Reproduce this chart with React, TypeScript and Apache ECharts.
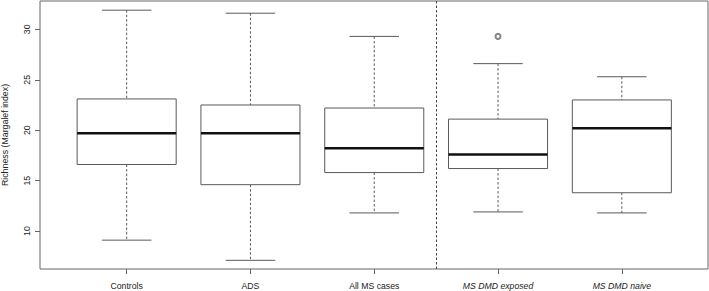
import React, { useEffect, useRef } from "react";
import * as echarts from "echarts";

const categories = ["Controls", "ADS", "All MS cases", "MS DMD exposed", "MS DMD naive"];
const italicCategories = [false, false, false, true, true];
const lowerWhisker = [9.1, 7.1, 11.8, 11.9, 11.8];
const q1 = [16.6, 14.6, 15.8, 16.2, 13.8];
const median = [19.7, 19.7, 18.2, 17.6, 20.2];
const q3 = [23.1, 22.5, 22.2, 21.1, 23.0];
const upperWhisker = [31.9, 31.6, 29.3, 26.6, 25.3];
const outliers: [number, number][] = [[4, 29.3]];
const separatorPosition = 3.5;
const yTicks = [10, 15, 20, 25, 30];
const yAxisTitle = "Richness (Margalef index)";

const FONT = "Liberation Sans, Arial, Helvetica, sans-serif";

export default function App() {
  const ref = useRef<HTMLDivElement>(null);
  useEffect(() => {
    if (!ref.current) return;
    const chart = echarts.init(ref.current, null, { renderer: "svg" });
    const boxData = categories.map((_, i) => [
      i + 1,
      lowerWhisker[i],
      q1[i],
      median[i],
      q3[i],
      upperWhisker[i],
    ]);
    const lineCol = "#5a5a5a";
    const option: any = {
      animation: false,
      backgroundColor: "#fff",
      grid: {
        left: 40,
        right: 1,
        top: 1,
        bottom: 22,
        containLabel: false,
        outerBoundsMode: "none",
        show: true,
        borderColor: "#666",
        borderWidth: 1,
        backgroundColor: "transparent",
      },
      xAxis: {
        type: "value",
        min: 0.3,
        max: 5.696,
        splitLine: { show: false },
        axisLine: { show: false },
        axisTick: {
          show: true,
          customValues: categories.map((_, i) => i + 1),
          length: 5,
          lineStyle: { color: "#666" },
        },
        axisLabel: {
          customValues: categories.map((_, i) => i + 1),
          margin: 12,
          fontSize: 8.7,
          fontFamily: FONT,
          color: "#222",
          formatter: (v: number) => {
            const idx = Math.round(v) - 1;
            const name = categories[idx] ?? "";
            return italicCategories[idx] ? "{i|" + name + "}" : name;
          },
          rich: {
            i: { fontStyle: "italic", fontSize: 8.7, fontFamily: FONT, color: "#222" },
          },
        },
      },
      yAxis: {
        type: "value",
        min: 6.24,
        max: 32.81,
        name: yAxisTitle,
        nameLocation: "middle",
        nameRotate: 90,
        nameGap: 31,
        nameMoveOverlap: false,
        nameTextStyle: { fontSize: 8.8, fontFamily: FONT, color: "#222" },
        splitLine: { show: false },
        axisLine: { show: false },
        axisTick: {
          show: true,
          customValues: yTicks,
          length: 5,
          lineStyle: { color: "#666" },
        },
        axisLabel: {
          customValues: yTicks,
          rotate: 90,
          margin: 9,
          fontSize: 8.8,
          fontFamily: FONT,
          color: "#222",
        },
      },
      series: [
        {
          type: "custom",
          data: boxData,
          encode: { x: 0, y: [1, 2, 3, 4, 5] },
          renderItem: (params: any, api: any) => {
            const pos = api.value(0);
            const lo = api.value(1);
            const a = api.value(2);
            const m = api.value(3);
            const b = api.value(4);
            const hi = api.value(5);
            const half = 0.4;
            const cap = 0.2;
            const tl = api.coord([pos - half, b]);
            const br = api.coord([pos + half, a]);
            const mL = api.coord([pos - half, m]);
            const mR = api.coord([pos + half, m]);
            const cHi = api.coord([pos, hi]);
            const cB = api.coord([pos, b]);
            const cA = api.coord([pos, a]);
            const cLo = api.coord([pos, lo]);
            const capHiL = api.coord([pos - cap, hi]);
            const capHiR = api.coord([pos + cap, hi]);
            const capLoL = api.coord([pos - cap, lo]);
            const capLoR = api.coord([pos + cap, lo]);
            return {
              type: "group",
              children: [
                {
                  type: "line",
                  shape: { x1: cHi[0], y1: cHi[1], x2: cB[0], y2: cB[1] },
                  style: { stroke: lineCol, lineWidth: 1, lineDash: [2.5, 2] },
                },
                {
                  type: "line",
                  shape: { x1: cA[0], y1: cA[1], x2: cLo[0], y2: cLo[1] },
                  style: { stroke: lineCol, lineWidth: 1, lineDash: [2.5, 2] },
                },
                {
                  type: "line",
                  shape: { x1: capHiL[0], y1: capHiL[1], x2: capHiR[0], y2: capHiR[1] },
                  style: { stroke: lineCol, lineWidth: 1 },
                },
                {
                  type: "line",
                  shape: { x1: capLoL[0], y1: capLoL[1], x2: capLoR[0], y2: capLoR[1] },
                  style: { stroke: lineCol, lineWidth: 1 },
                },
                {
                  type: "rect",
                  shape: { x: tl[0], y: tl[1], width: br[0] - tl[0], height: br[1] - tl[1] },
                  style: { fill: "#fff", stroke: lineCol, lineWidth: 1 },
                },
                {
                  type: "line",
                  shape: { x1: mL[0], y1: mL[1], x2: mR[0], y2: mR[1] },
                  style: { stroke: "#111", lineWidth: 2.5 },
                },
              ],
            };
          },
        },
        {
          type: "scatter",
          data: outliers,
          symbol: "emptyCircle",
          symbolSize: 5,
          itemStyle: { color: "#666", borderColor: "#666", borderWidth: 0.7 },
          markLine: {
            silent: true,
            symbol: ["none", "none"],
            label: { show: false },
            lineStyle: { color: "#444", type: [2.5, 2], width: 1 },
            data: [{ xAxis: separatorPosition }],
          },
        },
      ],
    };
    chart.setOption(option);
    return () => chart.dispose();
  }, []);
  return (
    <div
      ref={ref}
      style={{ position: "fixed", left: 0, top: 0, width: 709, height: 291, background: "#fff" }}
    />
  );
}
